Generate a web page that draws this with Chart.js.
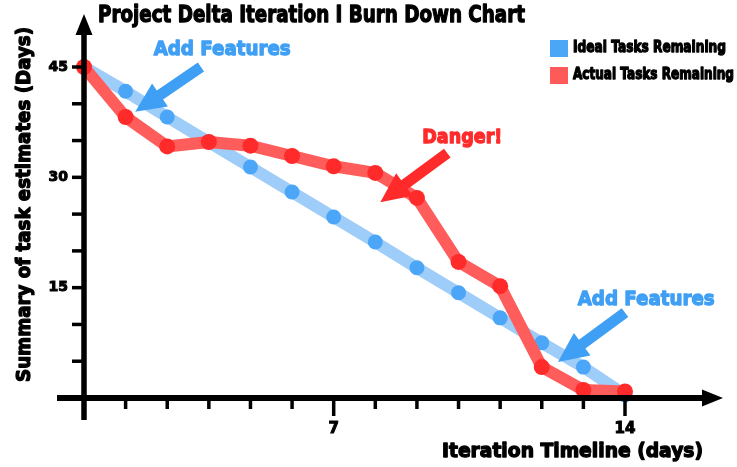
<!DOCTYPE html>
<html>
<head>
<meta charset="utf-8">
<script src="https://cdn.jsdelivr.net/npm/chart.js@4.4.1/dist/chart.umd.min.js"></script>
<style>
  html, body { margin: 0; padding: 0; background: #fff; }
  #wrap { width: 737px; height: 467px; }
</style>
</head>
<body>
<div id="wrap"><canvas id="burnChart" width="737" height="467"></canvas></div>
<script>
// iteration days, first one sits on the y axis
const days = ['1', '2', '3', '4', '5', '6', '7', '8', '9', '10', '11', '12', '13', '14'];
const labeledDays = ['7', '14'];
const labeledEstimates = [15, 30, 45];

// task estimates left (days)
const idealRemaining = [45, 41.7, 38.2, 34.8, 31.4, 28.0, 24.6, 21.2, 17.7, 14.3, 10.9, 7.5, 4.2, 0.4];
const actualRemaining = [45, 38.2, 34.2, 34.8, 34.3, 32.9, 31.5, 30.6, 27.2, 18.5, 15.2, 4.2, 1.1, 0.9];

const BLUE_LINE = '#9fcdf9';
const BLUE_DOT = '#4ca6f7';
const RED_LINE = '#ff5c5c';
const RED_DOT = '#ff2b2b';
const FONT = "'DejaVu Sans', 'Liberation Sans', sans-serif";

// callouts, placed in data units (day index, days left)
const notes = [
  { text: 'Add Features', color: '#3f9ff4', at: [3.32, 47.3], width: 137, from: [2.81, 45.0], to: [1.23, 38.9] },
  { text: 'Danger!', color: '#ff2b2b', at: [9.09, 35.4], width: 80, from: [8.73, 33.3], to: [7.12, 26.6] },
  { text: 'Add Features', color: '#3f9ff4', at: [13.51, 13.4], width: 137, from: [13.0, 11.6], to: [11.39, 4.9] }
];

// heavy text squeezed to the width it has in the original
function fitText(ctx, text, x, y, size, width, align) {
  ctx.save();
  ctx.font = 'bold ' + size + 'px ' + FONT;
  const w = ctx.measureText(text).width;
  ctx.translate(x, y);
  ctx.scale(width / w, 1);
  ctx.textAlign = align;
  ctx.textBaseline = 'middle';
  ctx.strokeStyle = ctx.fillStyle;
  ctx.lineWidth = 1.3;
  ctx.lineJoin = 'round';
  ctx.strokeText(text, 0, 0);
  ctx.fillText(text, 0, 0);
  ctx.restore();
}

function blockArrow(ctx, x0, y0, x1, y1, shaft, headW, headL, color) {
  const ang = Math.atan2(y1 - y0, x1 - x0);
  const len = Math.hypot(x1 - x0, y1 - y0);
  ctx.save();
  ctx.translate(x0, y0);
  ctx.rotate(ang);
  ctx.beginPath();
  ctx.moveTo(0, -shaft / 2);
  ctx.lineTo(len - headL, -shaft / 2);
  ctx.lineTo(len - headL, -headW / 2);
  ctx.lineTo(len, 0);
  ctx.lineTo(len - headL, headW / 2);
  ctx.lineTo(len - headL, shaft / 2);
  ctx.lineTo(0, shaft / 2);
  ctx.closePath();
  ctx.fillStyle = color;
  ctx.fill();
  ctx.restore();
}

const burnDecor = {
  id: 'burnDecor',
  afterDatasetsDraw(chart) {
    const ctx = chart.ctx;
    const area = chart.chartArea;
    const xs = chart.scales.x, ys = chart.scales.y;

    // tick marks
    ctx.save();
    ctx.strokeStyle = '#000';
    ctx.lineWidth = 3.5;
    xs.ticks.forEach((t, i) => {
      if (i === 0) return;
      const px = xs.getPixelForTick(i);
      const major = labeledDays.includes(days[i]);
      ctx.beginPath();
      ctx.moveTo(px, area.bottom);
      ctx.lineTo(px, area.bottom + (major ? 18 : 11));
      ctx.stroke();
    });
    ys.ticks.forEach(t => {
      if (t.value === 0) return;
      const py = ys.getPixelForValue(t.value);
      ctx.beginPath();
      ctx.moveTo(area.left - 12, py);
      ctx.lineTo(area.left, py);
      ctx.stroke();
    });
    ctx.restore();

    // axes with arrow heads
    blockArrow(ctx, area.left - 27, area.bottom, area.right + 98, area.bottom, 6, 17, 21, '#000');
    blockArrow(ctx, area.left, area.bottom + 22, area.left, 14, 5.5, 17, 21, '#000');

    // callouts
    notes.forEach(n => {
      const tx = xs.getPixelForValue(n.at[0]), ty = ys.getPixelForValue(n.at[1]);
      ctx.fillStyle = n.color;
      fitText(ctx, n.text, tx, ty, 20, n.width, 'center');
      blockArrow(ctx,
        xs.getPixelForValue(n.from[0]), ys.getPixelForValue(n.from[1]),
        xs.getPixelForValue(n.to[0]), ys.getPixelForValue(n.to[1]),
        11, 28, 30, n.color);
    });
  },
  afterDraw(chart) {
    const ctx = chart.ctx;
    ctx.fillStyle = '#000';
    fitText(ctx, 'Project Delta Iteration I Burn Down Chart', 311.5, 16.5, 23, 427, 'center');
    fitText(ctx, 'Iteration Timeline (days)', 572.5, 452, 19, 261, 'center');
    ctx.save();
    ctx.translate(25, 204.5);
    ctx.rotate(-Math.PI / 2);
    ctx.fillStyle = '#000';
    fitText(ctx, 'Summary of task estimates (Days)', 0, 0, 20, 355, 'center');
    ctx.restore();

    // legend
    const legendRows = [
      { ds: chart.data.datasets[0], y: 40, w: 153 },
      { ds: chart.data.datasets[1], y: 67, w: 161 }
    ];
    legendRows.forEach(r => {
      ctx.fillStyle = r.ds.legendColor;
      ctx.fillRect(550, r.y, 18, 17);
      ctx.fillStyle = '#000';
      fitText(ctx, r.ds.label, 573, r.y + 8.5, 15, r.w, 'left');
    });
  }
};

const ctx = document.getElementById('burnChart').getContext('2d');

const burnChart = new Chart(ctx, {
  type: 'line',
  data: {
    labels: days,
    datasets: [
      {
        label: 'Ideal Tasks Remaining',
        data: idealRemaining,
        borderColor: BLUE_LINE,
        backgroundColor: BLUE_DOT,
        legendColor: BLUE_DOT,
        pointBackgroundColor: BLUE_DOT,
        pointBorderWidth: 0,
        pointRadius: 7.5,
        borderWidth: 12,
        borderCapStyle: 'round',
        borderJoinStyle: 'round',
        tension: 0,
        clip: false,
        order: 2
      },
      {
        label: 'Actual Tasks Remaining',
        data: actualRemaining,
        borderColor: RED_LINE,
        backgroundColor: RED_DOT,
        legendColor: '#ff5a5a',
        pointBackgroundColor: RED_DOT,
        pointBorderWidth: 0,
        pointRadius: 8,
        borderWidth: 12,
        borderCapStyle: 'round',
        borderJoinStyle: 'round',
        tension: 0,
        clip: false,
        order: 1
      }
    ]
  },
  options: {
    responsive: false,
    animation: false,
    layout: { padding: { top: 67, right: 112, bottom: 0, left: 0 } },
    plugins: {
      legend: { display: false },
      tooltip: { enabled: false },
      title: { display: false }
    },
    scales: {
      x: {
        type: 'category',
        offset: false,
        grid: { display: false, drawTicks: false },
        border: { display: false },
        ticks: {
          autoSkip: false,
          maxRotation: 0,
          padding: 22,
          color: '#000',
          textStrokeColor: '#000',
          textStrokeWidth: 1,
          font: { family: FONT, weight: 'bold', size: 15 },
          callback: function (v) {
            const l = this.getLabelForValue(v);
            return labeledDays.includes(l) ? l : '';
          }
        },
        afterFit: s => { s.height = 69; }
      },
      y: {
        min: 0,
        max: 45,
        grid: { display: false, drawTicks: false },
        border: { display: false },
        ticks: {
          stepSize: 5,
          padding: 16,
          color: '#000',
          textStrokeColor: '#000',
          textStrokeWidth: 1,
          font: { family: FONT, weight: 'bold', size: 14 },
          callback: v => labeledEstimates.includes(v) ? v : ''
        },
        afterFit: s => { s.width = 84; }
      }
    }
  },
  plugins: [burnDecor]
});
</script>
</body>
</html>
